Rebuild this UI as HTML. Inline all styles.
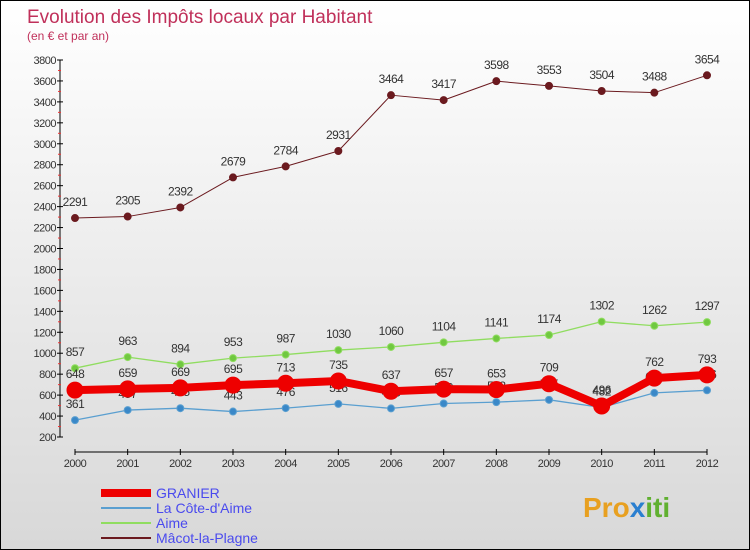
<!DOCTYPE html>
<html><head><meta charset="utf-8"><style>
body{margin:0;}
#wrap{position:relative;width:748px;height:548px;border:1px solid #000;background:linear-gradient(#fff,#d8d8d8);font-family:"Liberation Sans",sans-serif;overflow:hidden}
</style></head><body>
<div id="wrap">
<svg id="chart" width="748" height="548" xmlns="http://www.w3.org/2000/svg" style="position:absolute;left:0;top:0">
<text x="26" y="22" font-size="19" fill="#c0305a">Evolution des Impôts locaux par Habitant</text>
<text x="26" y="39" font-size="12" fill="#c0305a">(en € et par an)</text>
<g id="axes"></g><g id="series"></g><g id="legend"></g>
<text x="582" y="516" font-size="28" font-weight="bold" fill="#e8a020">Pro<tspan fill="#2a7fd0">x</tspan><tspan fill="#60b030">iti</tspan></text>
</svg>
</div>
<script>
const years=[2000,2001,2002,2003,2004,2005,2006,2007,2008,2009,2010,2011,2012];
const granier=[648,659,669,695,713,735,637,657,653,709,496,762,793];
const coteAime=[361,457,475,443,476,516,473,520,533,555,482,621,646];
const aime=[857,963,894,953,987,1030,1060,1104,1141,1174,1302,1262,1297];
const macot=[2291,2305,2392,2679,2784,2931,3464,3417,3598,3553,3504,3488,3654];
const yTicks=[200,400,600,800,1000,1200,1400,1600,1800,2000,2200,2400,2600,2800,3000,3200,3400,3600,3800];
const NS="http://www.w3.org/2000/svg";
const X=i=>74+i*(632/12);
const Y=v=>436-(v-200)*(377/3600);
function mk(tag,attrs,parent){const e=document.createElementNS(NS,tag);for(const k in attrs)e.setAttribute(k,attrs[k]);parent.appendChild(e);return e;}
const axes=document.getElementById('axes');
let a=mk('line',{x1:59,y1:Y(3800),x2:59,y2:Y(200),stroke:'#000'},axes);


a=mk('line',{x1:X(0),y1:451,x2:X(12),y2:451,stroke:'#000'},axes);


yTicks.forEach((t,i)=>{
 mk('line',{x1:56,y1:Y(t),x2:62,y2:Y(t),stroke:'#000'},axes);
 if(i<yTicks.length-1) mk('line',{x1:57,y1:Y(t+100),x2:60,y2:Y(t+100),stroke:'#e33'},axes);
 const tx=mk('text',{x:55,y:Y(t)+4,'font-size':11,'text-anchor':'end',fill:'#333','letter-spacing':'-0.5'},axes);
 tx.textContent=t;
 
 
});
years.forEach((yr,i)=>{
 mk('line',{x1:X(i),y1:448,x2:X(i),y2:454,stroke:'#000'},axes);
 const tx=mk('text',{x:X(i),y:466,'font-size':11,'text-anchor':'middle',fill:'#333','letter-spacing':'-0.5'},axes);
 tx.textContent=yr;
 
 
});
const ser=document.getElementById('series');
function draw(name,data,color,w,r,dot){
 const g=mk('g',{},ser);
 
 
 const p=mk('polyline',{points:data.map((v,i)=>X(i)+','+Y(v)).join(' '),fill:'none',stroke:color,'stroke-width':w,'stroke-linejoin':'round'},g);
 
 
 data.forEach((v,i)=>{
  const c=mk('circle',{cx:X(i),cy:Y(v),r:r,fill:dot,stroke:color,'stroke-width':1},g);
  
  
  const t=mk('text',{x:X(i),y:Y(v)-12,'font-size':12,'text-anchor':'middle',fill:'#333','letter-spacing':'-0.5'},g);
  t.textContent=v;
  
  
 });
}
draw('macot-la-plagne',macot,'#6b1a1f',1,3.5,'#6b1a1f');
draw('aime',aime,'#90dd60',1.3,3.5,'#70c840');
draw('la-cote-daime',coteAime,'#5a9fd0',1.3,3.5,'#3a88c8');
draw('granier',granier,'#ee0000',8,8,'#ee0000');
const lg=document.getElementById('legend');
[['granier','GRANIER','#ee0000',8],['la-cote-daime','La Côte-d\'Aime','#5a9fd0',2],['aime','Aime','#90dd60',2],['macot-la-plagne','Mâcot-la-Plagne','#6b1a1f',2]].forEach((d,i)=>{
 const y=492+i*15;
 const g=mk('g',{},lg);
 
 
 mk('line',{x1:100,y1:y,x2:150,y2:y,stroke:d[2],'stroke-width':d[3]},g);
 const t=mk('text',{x:155,y:y+5,'font-size':14,fill:'#4a4aee'},g);
 t.textContent=d[1];
});
</script>
</body></html>
